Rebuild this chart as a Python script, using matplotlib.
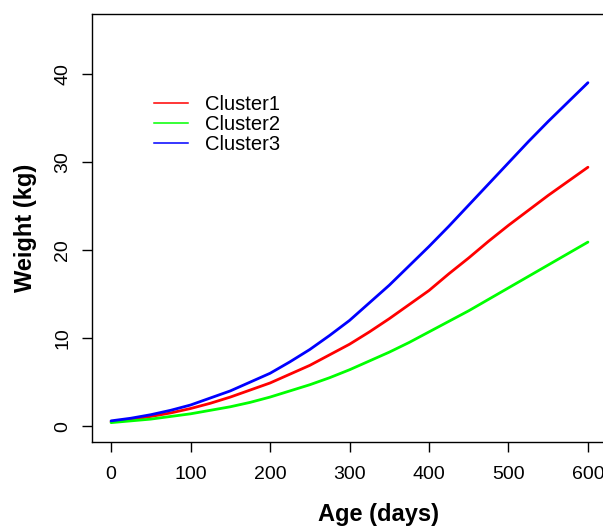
import numpy as np
import matplotlib
matplotlib.use("Agg")
import matplotlib.pyplot as plt

plt.rcParams['font.family'] = ['Liberation Sans', 'DejaVu Sans']

# growth curves (weight in kg every 25 days)
days = [0, 25, 50, 75, 100, 125, 150, 175, 200, 225, 250, 275, 300,
        325, 350, 375, 400, 425, 450, 475, 500, 525, 550, 575, 600]
cluster1 = [0.5, 0.75, 1.1, 1.5, 2.0, 2.6, 3.3, 4.1, 4.9, 5.9, 6.9, 8.1, 9.3,
            10.7, 12.2, 13.8, 15.4, 17.3, 19.1, 21.0, 22.8, 24.5, 26.2, 27.8, 29.4]
cluster2 = [0.4, 0.6, 0.8, 1.1, 1.4, 1.8, 2.2, 2.7, 3.3, 4.0, 4.7, 5.5, 6.4,
            7.4, 8.4, 9.5, 10.7, 11.9, 13.1, 14.4, 15.7, 17.0, 18.3, 19.6, 20.9]
cluster3 = [0.6, 0.9, 1.3, 1.8, 2.4, 3.2, 4.0, 5.0, 6.0, 7.3, 8.7, 10.3, 12.0,
            14.0, 16.0, 18.2, 20.4, 22.7, 25.1, 27.5, 29.9, 32.3, 34.6, 36.8, 39.0]

names = ['Cluster1', 'Cluster2', 'Cluster3']
colors = ['#ff0000', '#00ff00', '#0000ff']
xticks = [0, 100, 200, 300, 400, 500, 600]
yticks = [0, 10, 20, 30, 40]

W, H = 603, 530
fig = plt.figure(figsize=(W / 100, H / 100), dpi=100)
# plot box: left 92px, top 14px, bottom 442px, right edge runs past the image
ax = fig.add_axes([92 / W, (H - 442) / H, (607 - 92) / W, (442 - 14) / H])

for vals, c in zip([cluster1, cluster2, cluster3], colors):
    ax.plot(days, vals, color=c, lw=2.0, solid_capstyle='round')

ax.set_xlim(-24, 624)
ax.set_ylim(-1.8, 46.8)
ax.set_xticks(xticks)
ax.set_yticks(yticks)

for sp in ax.spines.values():
    sp.set_linewidth(1.0)
    sp.set_color('black')

ax.tick_params(axis='both', direction='out', length=7, width=1.0,
               labelsize=14, colors='black')
ax.tick_params(axis='x', pad=10)
ax.tick_params(axis='y', pad=8, labelrotation=90)
for lab in ax.get_yticklabels():
    lab.set_va('center')

ax.set_xlabel('Age (days)', fontsize=17, fontweight='bold')
ax.set_ylabel('Weight (kg)', fontsize=17, fontweight='bold', labelpad=12)
# the original plot region was wider than the crop, so the x label sits right of centre
ax.xaxis.set_label_coords((379 - 92) / (607 - 92), -(503 - 442) / (442 - 14))

# legend, thin lines, no frame
handles = [plt.Line2D([], [], color=c, lw=1.1) for c in colors]
leg = ax.legend(handles, names, loc='upper left', frameon=False,
                bbox_to_anchor=(140 / W, (H - 81) / H),
                bbox_transform=fig.transFigure,
                fontsize=14.5, handlelength=1.7, handletextpad=0.85,
                labelspacing=0.05, borderpad=0.2)

fig.savefig('out.png', dpi=100)
